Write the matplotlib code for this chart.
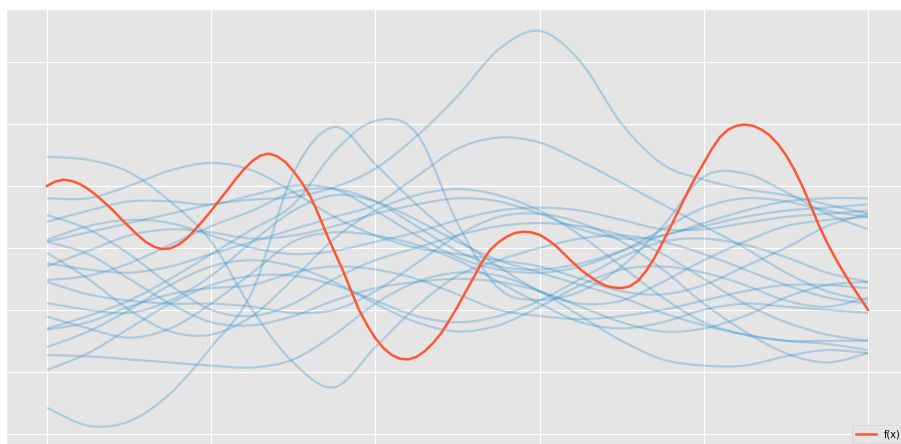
import numpy as np
import matplotlib
matplotlib.use("Agg")
import matplotlib.pyplot as plt
from matplotlib.path import Path
from matplotlib.patches import PathPatch

plt.style.use("ggplot")

# target function, sampled every 0.05
x_f = np.linspace(0, 5, 101)
f_x = [1.00, 1.07, 1.10, 1.08, 1.03, 0.95, 0.85, 0.73, 0.61, 0.47,
       0.34, 0.21, 0.10, 0.02, -0.02, -0.01, 0.05, 0.15, 0.29, 0.44,
       0.60, 0.77, 0.94, 1.11, 1.27, 1.40, 1.49, 1.52, 1.48, 1.39,
       1.24, 1.06, 0.85, 0.56, 0.24, -0.06, -0.35, -0.68, -1.00, -1.25,
       -1.46, -1.62, -1.73, -1.79, -1.80, -1.76, -1.67, -1.54, -1.38, -1.17,
       -0.95, -0.71, -0.47, -0.23, -0.03, 0.09, 0.18, 0.24, 0.26, 0.25,
       0.21, 0.13, 0.03, -0.10, -0.23, -0.35, -0.45, -0.54, -0.61, -0.64,
       -0.65, -0.62, -0.53, -0.37, -0.16, 0.09, 0.35, 0.62, 0.89, 1.14,
       1.37, 1.60, 1.79, 1.91, 1.97, 1.99, 1.97, 1.91, 1.82, 1.68,
       1.50, 1.27, 1.00, 0.69, 0.37, 0.09, -0.16, -0.39, -0.60, -0.80,
       -1.00]

# prior samples, every 0.25
x_s = np.linspace(0, 5, 21)
samples = [
    [1.47, 1.42, 1.22, 0.75, 0.10, -1.00, -1.85, -2.25, -1.60, -0.95, -0.45,
     -0.20, 0.00, 0.15, 0.20, 0.10, -0.10, -0.35, -0.60, -0.80, -0.90],
    [-2.58, -2.87, -2.80, -2.35, -1.60, -0.70, 1.20, 1.95, 1.35, 0.70, 0.15,
     -0.30, -0.70, -0.90, -0.85, -0.55, -0.20, 0.10, 0.35, 0.45, 0.50],
    [0.10, 0.25, 0.40, 0.55, 0.70, 0.78, 0.82, 0.98, 1.28, 1.80, 2.45,
     3.20, 3.50, 3.00, 2.00, 1.35, 1.10, 0.95, 0.85, 0.70, 0.55],
    [-1.30, -1.10, -0.85, -0.50, -0.10, 0.30, 0.70, 1.55, 2.05, 1.85, 0.40,
     -0.65, -0.84, -0.70, -0.30, 0.35, 1.15, 1.20, 0.90, 0.55, 0.30],
    [-0.25, -0.35, -0.40, -0.30, -0.10, 0.10, 0.30, 0.50, 0.70, 1.15, 1.60,
     1.78, 1.70, 1.40, 1.05, 0.70, 0.35, 0.00, -0.40, -0.70, -0.85],
    [0.80, 0.80, 1.00, 1.25, 1.37, 1.25, 0.90, 0.50, 0.20, 0.00, -0.10,
     -0.20, -0.30, -0.50, -0.70, -0.75, -0.60, -0.30, 0.00, 0.35, 0.55],
    [0.53, 0.30, -0.10, -0.60, -1.00, -1.10, -0.90, -0.50, -0.20, 0.00, 0.20,
     0.35, 0.40, 0.35, 0.20, -0.10, -0.50, -0.90, -1.20, -1.40, -1.50],
    [0.42, 0.60, 0.75, 0.75, 0.70, 0.85, 1.00, 0.95, 0.60, 0.20, -0.15,
     -0.35, -0.40, -0.30, -0.05, 0.30, 0.65, 0.80, 0.75, 0.60, 0.50],
    [0.13, 0.35, 0.45, 0.40, 0.20, 0.00, -0.10, -0.05, 0.10, 0.25, 0.45,
     0.60, 0.65, 0.60, 0.45, 0.30, 0.30, 0.40, 0.50, 0.55, 0.60],
    [0.10, -0.10, -0.50, -0.90, -1.20, -1.25, -1.10, -0.85, -0.65, -0.55, -0.50,
     -0.55, -0.70, -0.95, -1.20, -1.35, -1.30, -1.10, -0.80, -0.60, -0.55],
    [-0.08, -0.50, -1.00, -1.35, -1.40, -1.10, -0.50, 0.15, 0.60, 0.85, 0.95,
     0.85, 0.60, 0.20, -0.30, -0.80, -1.20, -1.40, -1.50, -1.55, -1.65],
    [-0.52, -0.45, -0.25, 0.05, 0.35, 0.60, 0.90, 0.95, 0.75, 0.35, -0.05,
     -0.30, -0.35, -0.25, -0.05, 0.20, 0.35, 0.50, 0.60, 0.65, 0.70],
    [-0.89, -1.00, -1.05, -0.85, -0.45, 0.10, 0.60, 0.85, 0.75, 0.45, 0.10,
     -0.20, -0.40, -0.60, -0.80, -1.05, -1.25, -1.40, -1.50, -1.50, -1.50],
    [-1.11, -1.30, -1.45, -1.30, -0.90, -0.40, 0.10, 0.25, 0.20, 0.05, -0.20,
     -0.55, -0.90, -1.20, -1.30, -1.20, -1.00, -0.90, -0.95, -1.00, -1.05],
    [-1.32, -1.20, -0.95, -0.75, -0.65, -0.60, -0.40, -0.30, -0.35, -0.50, -0.75,
     -1.00, -1.10, -1.15, -1.10, -1.00, -0.85, -0.70, -0.60, -0.60, -0.65],
    [-1.60, -1.35, -1.00, -0.60, -0.30, -0.20, -0.30, -0.55, -0.90, -1.20, -1.35,
     -1.25, -0.95, -0.60, -0.35, -0.30, -0.40, -0.60, -0.85, -0.95, -0.80],
    [-1.73, -1.75, -1.80, -1.85, -1.90, -1.93, -1.80, -1.40, -0.90, -0.55, -0.40,
     -0.45, -0.70, -1.10, -1.50, -1.80, -1.90, -1.90, -1.75, -1.65, -1.70],
    [-1.97, -1.70, -1.30, -0.90, -0.60, -0.45, -0.45, -0.60, -0.85, -1.10, -1.20,
     -1.10, -0.85, -0.50, -0.15, 0.10, 0.15, 0.05, -0.15, -0.40, -0.55],
    [-0.55, -0.75, -0.85, -0.90, -0.90, -0.95, -1.05, -1.00, -0.70, -0.25, 0.20,
     0.50, 0.55, 0.40, 0.10, -0.35, -0.90, -1.35, -1.70, -1.85, -1.70],
    [-0.30, -0.05, 0.20, 0.30, 0.25, 0.15, 0.20, 0.35, 0.55, 0.70, 0.80,
     0.75, 0.55, 0.30, 0.15, 0.20, 0.40, 0.60, 0.75, 0.80, 0.80],
]


def smooth_path(x, y):
    # Catmull-Rom curve through the sampled points, as cubic Bezier pieces
    pts = np.column_stack([x, y])
    n = len(pts)
    verts = [pts[0]]
    codes = [Path.MOVETO]
    for i in range(n - 1):
        p0 = pts[max(i - 1, 0)]
        p1 = pts[i]
        p2 = pts[i + 1]
        p3 = pts[min(i + 2, n - 1)]
        verts += [p1 + (p2 - p0) / 6, p2 - (p3 - p1) / 6, p2]
        codes += [Path.CURVE4] * 3
    return Path(verts, codes)


fig = plt.figure(figsize=(9.01, 4.44), dpi=100)
ax = fig.add_axes([6 / 901, -4 / 444, 903 / 901, 439 / 444])

for s in samples:
    ax.add_patch(PathPatch(smooth_path(x_s, s), fill=False,
                           edgecolor="#2C8FCC", alpha=0.3, lw=1.6))
ax.plot(x_f, f_x, color="#FF5733", lw=1.8, label="f(x)", zorder=5)

ax.set_xlim(-0.25, 5.25)
ax.set_ylim(-3.23, 3.855)
ax.set_xticks(range(6))
ax.set_yticks(range(-3, 4))
ax.tick_params(labelleft=False, labelbottom=False, length=0)
ax.legend(loc="lower right", fontsize=7)

fig.savefig("out.png", dpi=100)
